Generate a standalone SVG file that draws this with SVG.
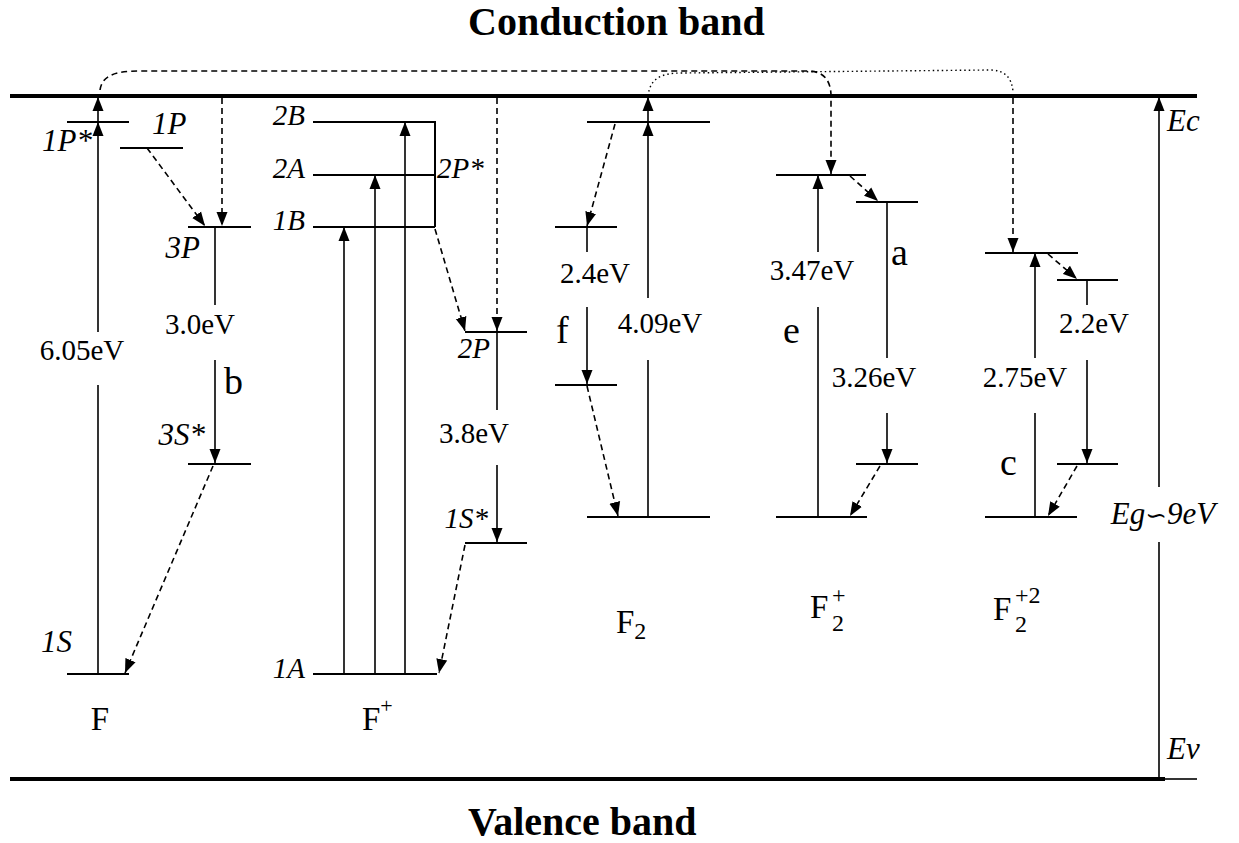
<svg xmlns="http://www.w3.org/2000/svg" width="1239" height="843" viewBox="0 0 1239 843">
<style>
text{font-family:"Liberation Serif","Times New Roman",serif;fill:#000}
.t{font-size:29px}
.it{font-size:31px;font-style:italic}
.it2{font-size:29px;font-style:italic}
.lt{font-size:38px}
.nm{font-size:33px}
.hd{font-size:40px;font-weight:bold}
.lv{stroke:#000;stroke-width:2;fill:none}
.ln{stroke:#000;stroke-width:1.6;fill:none}
.ar{stroke:#000;stroke-width:1.6;fill:none;marker-end:url(#ah)}
.da{stroke:#000;stroke-width:1.6;fill:none;stroke-dasharray:6 4;marker-end:url(#ah)}
.dt{stroke:#000;stroke-width:1.4;fill:none;stroke-dasharray:1.5 3}
.band{stroke:#000;stroke-width:4;fill:none}
</style>
<defs>
<marker id="ah" viewBox="0 0 14 12" markerWidth="14" markerHeight="12" refX="14" refY="6" orient="auto" markerUnits="userSpaceOnUse">
<path d="M0,0.5 L14,6 L0,11.5 z" fill="#000"/>
</marker>
</defs>

<g id="bands">
<line class="band" x1="10" y1="96" x2="1197" y2="96"/>
<line class="band" x1="10" y1="779" x2="1165" y2="779"/>
<line class="ln" x1="1165" y1="779" x2="1197" y2="779"/>
<text class="hd" x="468" y="35">Conduction band</text>
<text class="hd" x="468" y="835">Valence band</text>
</g>

<g id="gap">
<line class="ln" x1="1159" y1="779" x2="1159" y2="542"/>
<path class="ar" d="M1159,487 L1159,97"/>
<text class="it" x="1163" y="524" text-anchor="middle">Eg<tspan font-family="DejaVu Serif, DejaVu Sans, serif" font-style="normal" font-size="26">∽</tspan>9eV</text>
<text class="it" x="1167" y="131">Ec</text>
<text class="it" x="1167" y="759">Ev</text>
</g>

<g id="F">
<line class="lv" x1="67" y1="122" x2="129" y2="122"/>
<line class="lv" x1="120" y1="148" x2="183" y2="148"/>
<line class="lv" x1="188" y1="227" x2="251" y2="227"/>
<line class="lv" x1="188" y1="464" x2="251" y2="464"/>
<line class="lv" x1="67" y1="674" x2="129" y2="674"/>
<text class="it" x="92" y="151" text-anchor="end">1P*</text>
<text class="it" x="152" y="134">1P</text>
<text class="it" x="200" y="258" text-anchor="end">3P</text>
<text class="it" x="205" y="445" text-anchor="end">3S*</text>
<text class="it" x="72" y="652" text-anchor="end">1S</text>
<text class="t" x="82" y="360" text-anchor="middle">6.05eV</text>
<text class="t" x="200" y="334" text-anchor="middle">3.0eV</text>
<text class="lt" x="224" y="394">b</text>
<text class="nm" x="100" y="730" text-anchor="middle">F</text>
</g>

<g id="Fplus">
<path class="lv" d="M313,122 L435,122 L435,227 M313,175 L435,175 M313,227 L435,227"/>
<line class="lv" x1="465" y1="332" x2="527" y2="332"/>
<line class="lv" x1="465" y1="543" x2="527" y2="543"/>
<line class="lv" x1="313" y1="674" x2="437" y2="674"/>
<text class="it2" x="305" y="125" text-anchor="end">2B</text>
<text class="it2" x="305" y="178" text-anchor="end">2A</text>
<text class="it2" x="305" y="230" text-anchor="end">1B</text>
<text class="it2" x="305" y="678" text-anchor="end">1A</text>
<text class="it2" x="437" y="178">2P*</text>
<text class="it2" x="490" y="358" text-anchor="end">2P</text>
<text class="it2" x="488" y="528" text-anchor="end">1S*</text>
<text class="t" x="474" y="443" text-anchor="middle">3.8eV</text>
<text class="nm" x="362" y="730">F<tspan font-size="22" dy="-17">+</tspan></text>
</g>

<g id="F2">
<line class="lv" x1="587" y1="122" x2="710" y2="122"/>
<line class="lv" x1="555" y1="227" x2="617" y2="227"/>
<line class="lv" x1="555" y1="385" x2="617" y2="385"/>
<line class="lv" x1="587" y1="517" x2="710" y2="517"/>
<text class="t" x="595" y="283" text-anchor="middle">2.4eV</text>
<text class="t" x="660" y="333" text-anchor="middle">4.09eV</text>
<text class="lt" x="556" y="343">f</text>
<text class="nm" font-size="36" x="616" y="633">F<tspan font-size="24" dy="6">2</tspan></text>
</g>

<g id="F2plus">
<line class="lv" x1="776" y1="175" x2="866" y2="175"/>
<line class="lv" x1="856" y1="202" x2="918" y2="202"/>
<line class="lv" x1="856" y1="464" x2="918" y2="464"/>
<line class="lv" x1="776" y1="517" x2="867" y2="517"/>
<text class="t" x="812" y="280" text-anchor="middle">3.47eV</text>
<text class="t" x="874" y="387" text-anchor="middle">3.26eV</text>
<text class="lt" x="783" y="343">e</text>
<text class="lt" x="891" y="265">a</text>
<text class="nm" font-size="36" x="810" y="618">F<tspan font-size="24" x="832" y="631">2</tspan><tspan font-size="24" x="832" y="603">+</tspan></text>
</g>

<g id="F2plus2">
<line class="lv" x1="985" y1="253" x2="1078" y2="253"/>
<line class="lv" x1="1057" y1="280" x2="1118" y2="280"/>
<line class="lv" x1="1057" y1="464" x2="1118" y2="464"/>
<line class="lv" x1="985" y1="517" x2="1077" y2="517"/>
<text class="t" x="1025" y="387" text-anchor="middle">2.75eV</text>
<text class="t" x="1094" y="333" text-anchor="middle">2.2eV</text>
<text class="lt" x="1000" y="475">c</text>
<text class="nm" font-size="36" x="993" y="620">F<tspan font-size="24" x="1015" y="632">2</tspan><tspan font-size="24" x="1015" y="603">+2</tspan></text>
</g>

<g id="connectors">
<line class="ln" x1="98" y1="674" x2="98" y2="385"/>
<path class="ar" d="M98,332 L98,122"/>
<path class="ar" d="M98,122 L98,97"/>
<path class="da" d="M147,148 L205,226"/>
<path class="da" d="M222,98 L222,226"/>
<line class="ln" x1="215" y1="227" x2="215" y2="305"/>
<path class="ar" d="M215,360 L215,463"/>
<path class="da" d="M213,466 L125,673" stroke-dasharray="4 3"/>
<path class="ar" d="M344,674 L344,227"/>
<path class="ar" d="M375,674 L375,175"/>
<path class="ar" d="M405,674 L405,122"/>
<path class="da" d="M435,229 L465,331"/>
<path class="da" d="M497,98 L497,331"/>
<line class="ln" x1="497" y1="332" x2="497" y2="410"/>
<path class="ar" d="M497,465 L497,542"/>
<path class="da" d="M465,545 L439,673" stroke-dasharray="4 3"/>
<line class="ln" x1="648" y1="517" x2="648" y2="360"/>
<path class="ar" d="M648,298 L648,122"/>
<path class="ar" d="M648,122 L648,97"/>
<path class="da" d="M615,124 L587,226"/>
<line class="ln" x1="587" y1="227" x2="587" y2="252"/>
<path class="ar" d="M587,307 L587,384"/>
<path class="da" d="M587,386 L618,516"/>
<line class="ln" x1="818" y1="517" x2="818" y2="307"/>
<path class="ar" d="M818,252 L818,175"/>
<path class="da" d="M850,176 L878,201"/>
<line class="ln" x1="887" y1="202" x2="887" y2="358"/>
<path class="ar" d="M887,413 L887,463"/>
<path class="da" d="M880,466 L850,516"/>
<line class="ln" x1="1035" y1="517" x2="1035" y2="413"/>
<path class="ar" d="M1035,358 L1035,253"/>
<path class="da" d="M1048,254 L1077,279"/>
<line class="ln" x1="1087" y1="280" x2="1087" y2="305"/>
<path class="ar" d="M1087,360 L1087,463"/>
<path class="da" d="M1077,466 L1048,516"/>
<path class="da" d="M100,90 C102,76 114,71 140,71 L808,71 C823,71 831,80 831,96 L831,174"/>
<path class="dt" d="M648,96 C650,79 660,73 682,73 L990,70 C1004,70 1012,77 1013,92"/>
<path class="da" d="M1013,98 L1013,252"/>
</g>
</svg>
